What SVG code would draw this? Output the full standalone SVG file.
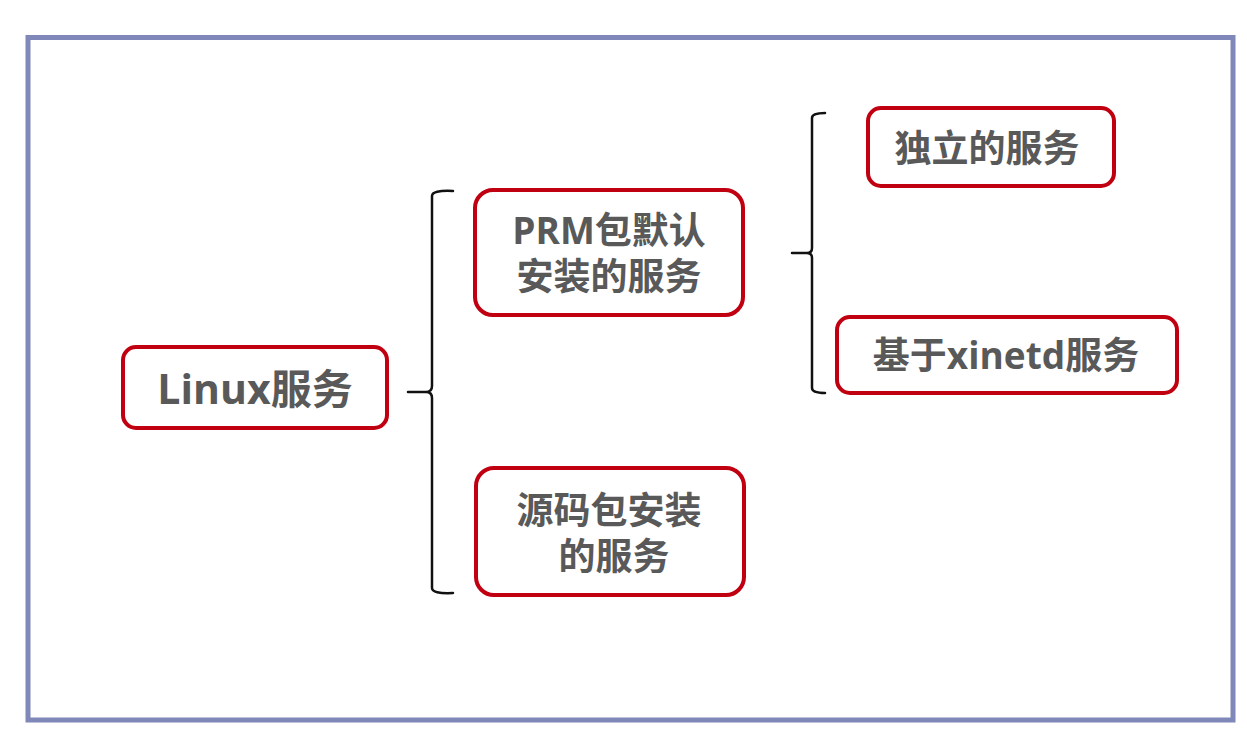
<svg xmlns="http://www.w3.org/2000/svg" width="1247" height="737" viewBox="0 0 1247 737">
<style>
.node rect{fill:#ffffff;stroke:#c00010;stroke-width:4}
.node text{font-family:"Open Sans","Noto Sans CJK SC",sans-serif;font-weight:bold;fill:#595959;text-anchor:middle;dominant-baseline:central}
.conn path{fill:none;stroke:#111111;stroke-width:2.5;stroke-linecap:round;stroke-linejoin:round}
</style>
<rect x="0" y="0" width="1247" height="737" fill="#ffffff"/>
<rect x="28" y="37.5" width="1205" height="682.5" fill="#ffffff" stroke="#7f88b8" stroke-width="5"/>
<g class="conn" id="connectors">
<path d="M453,191 Q432,190 432,196 L432,386 Q432,392 426,392 L408,392 M426,392 Q432,392 432,398 L432,588 Q432,594 453,593"/>
<path d="M825,113 Q812,113 812,118 L812,248 Q812,253 807,253 L792,253 M807,253 Q812,253 812,258 L812,388 Q812,393 825,393"/>
</g>
<g class="node" id="n-linux">
<rect x="123" y="347" width="264" height="81" rx="13"/>
<text x="255" y="388" font-size="41">Linux服务</text>
</g>
<g class="node" id="n-prm">
<rect x="475" y="190" width="268" height="125" rx="18"/>
<text x="609" y="229" font-size="37">PRM包默认</text>
<text x="609" y="275" font-size="37">安装的服务</text>
</g>
<g class="node" id="n-src">
<rect x="476" y="468" width="268" height="127" rx="18"/>
<text x="609" y="509" font-size="37">源码包安装</text>
<text x="614" y="555" font-size="37">的服务</text>
</g>
<g class="node" id="n-standalone">
<rect x="868" y="108" width="246" height="78" rx="13"/>
<text x="987" y="147" font-size="37">独立的服务</text>
</g>
<g class="node" id="n-xinetd">
<rect x="837" y="317" width="340" height="76" rx="13"/>
<text x="1006" y="354" font-size="37">基于xinetd服务</text>
</g>
</svg>
